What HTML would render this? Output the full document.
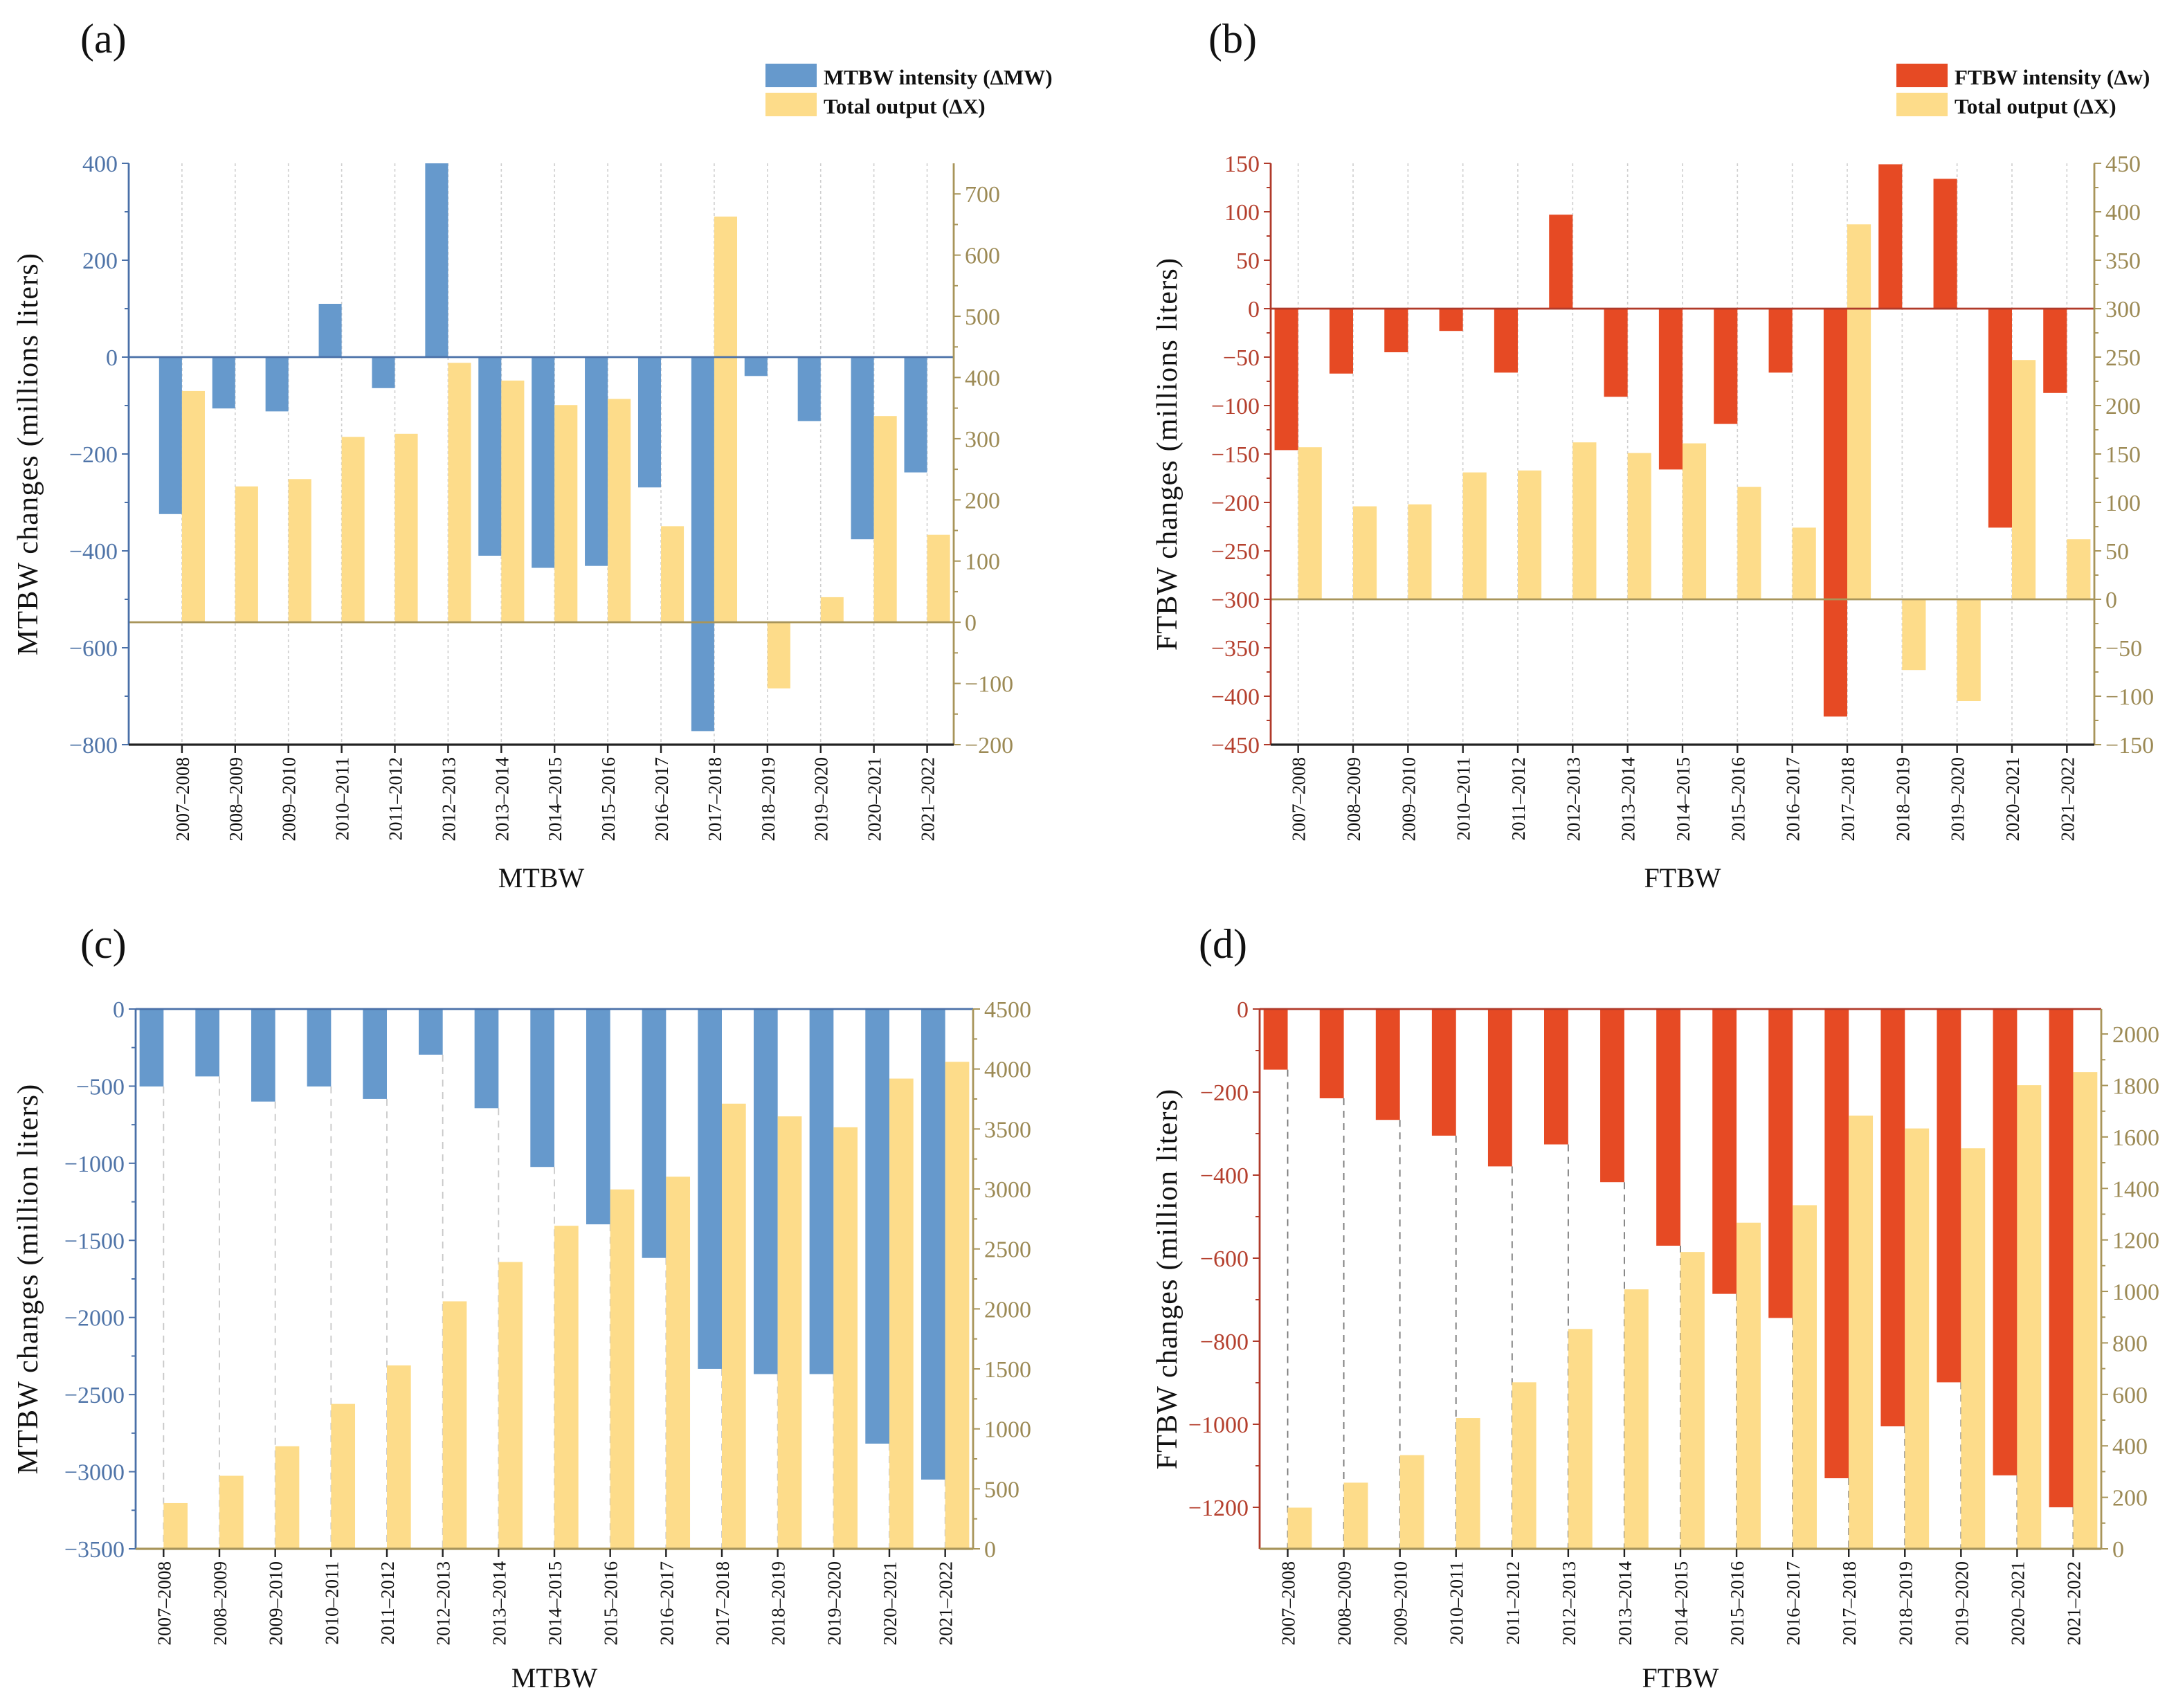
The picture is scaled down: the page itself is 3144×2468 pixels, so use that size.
<!DOCTYPE html>
<html><head><meta charset="utf-8"><style>
html,body{margin:0;padding:0;background:#fff;}
svg{display:block;font-family:"Liberation Serif",serif;}
</style></head><body>
<svg id="fig" xmlns="http://www.w3.org/2000/svg" width="3144" height="2468" viewBox="0 0 1572 1234"></svg>
<script>
const categories = ["2007–2008","2008–2009","2009–2010","2010–2011","2011–2012","2012–2013","2013–2014","2014–2015","2015–2016","2016–2017","2017–2018","2018–2019","2019–2020","2020–2021","2021–2022"];
const mtbwIntensityA = [-324,-106,-112,110,-64,400,-410,-435,-431,-269,-772,-39,-132,-376,-238];
const outputA = [378,222,234,303,308,424,395,355,365,157,663,-108,41,337,143];
const ftbwIntensityB = [-146,-67,-45,-23,-66,97,-91,-166,-119,-66,-421,149,134,-226,-87];
const outputB = [157,96,98,131,133,162,151,161,116,74,387,-73,-105,247,62];
const mtbwCumC = [-502,-437,-600,-502,-583,-296,-643,-1024,-1396,-1614,-2333,-2367,-2367,-2818,-3051];
const outputC = [381,609,855,1208,1529,2063,2391,2693,2996,3102,3711,3605,3514,3920,4060];
const ftbwCumD = [-146,-215,-267,-305,-379,-326,-417,-570,-686,-744,-1130,-1005,-899,-1123,-1200];
const outputD = [160,257,364,508,647,854,1008,1153,1267,1335,1683,1633,1556,1801,1852];
const ticksLeftA = [400,200,0,-200,-400,-600,-800];
const ticksRightA = [700,600,500,400,300,200,100,0,-100,-200];
const ticksLeftB = [150,100,50,0,-50,-100,-150,-200,-250,-300,-350,-400,-450];
const ticksRightB = [450,400,350,300,250,200,150,100,50,0,-50,-100,-150];
const ticksLeftC = [0,-500,-1000,-1500,-2000,-2500,-3000,-3500];
const ticksRightC = [4500,4000,3500,3000,2500,2000,1500,1000,500,0];
const ticksLeftD = [0,-200,-400,-600,-800,-1000,-1200];
const ticksRightD = [2000,1800,1600,1400,1200,1000,800,600,400,200,0];

const NS="http://www.w3.org/2000/svg";
const svg=document.getElementById('fig');
function mk(tag,attrs,parent,text){const e=document.createElementNS(NS,tag);for(const k in attrs)e.setAttribute(k,attrs[k]);if(text!==undefined)e.textContent=text;(parent||svg).appendChild(e);return e;}

const BLUE="#6699cc",YEL="#fddc8a",RED="#e64a24",OLIVE="#a8955a";

function panel(p){
  const g=mk('g',{});
  
  
  const L=p.x0,R=p.x1,T=p.y0,B=p.y1;
  const yl=v=>T+(p.lmax-v)/(p.lmax-p.lmin)*(B-T);
  const yr=v=>T+(p.rmax-v)/(p.rmax-p.rmin)*(B-T);
  const n=categories.length;
  const step=(R-L)/(n+p.padL+p.padR-1);
  const cx=i=>L+(p.padL+i)*step;
  const bw=step*0.43;
  categories.forEach((c,i)=>{
    if(p.grid){
      const ln=mk('line',{x1:cx(i),x2:cx(i),y1:T,y2:B,stroke:'#cfcfcf','stroke-width':0.8,'stroke-dasharray':'2,2'},g);
      
      
    }
    if(p.drop){
      const ln=mk('line',{x1:cx(i),x2:cx(i),y1:yl(p.left[i]),y2:B,stroke:p.dropColor,'stroke-width':0.9,'stroke-dasharray':'5,4'},g);
      
      
    }
  });
  categories.forEach((c,i)=>{
    const v=p.left[i];const y0=yl(0),y1=yl(v);
    const r=mk('rect',{x:cx(i)-bw,y:Math.min(y0,y1),width:bw,height:Math.abs(y1-y0),fill:p.color},g);
    
    
    const w=p.right[i];const z0=yr(0),z1=yr(w);
    const r2=mk('rect',{x:cx(i),y:Math.min(z0,z1),width:bw,height:Math.abs(z1-z0),fill:YEL},g);
    
    
  });
  const zl=mk('line',{x1:L,x2:R,y1:yl(0),y2:yl(0),stroke:p.axisColor,'stroke-width':1.4},g);
  
  
  const zr=mk('line',{x1:L,x2:R,y1:yr(0),y2:yr(0),stroke:OLIVE,'stroke-width':1.4},g);
  
  
  const la=mk('line',{x1:L,x2:L,y1:T,y2:B,stroke:p.axisColor,'stroke-width':1.4},g);
  
  
  const ra=mk('line',{x1:R,x2:R,y1:T,y2:B,stroke:OLIVE,'stroke-width':1.4},g);
  
  
  const ba=mk('line',{x1:L,x2:R,y1:B,y2:B,stroke:p.bottomColor,'stroke-width':1.6},g);
  
  
  p.lt.forEach((v,k)=>{
    const y=yl(v);
    mk('line',{x1:L-5,x2:L,y1:y,y2:y,stroke:p.axisColor,'stroke-width':1},g);
    if(k<p.lt.length-1){const ym=(y+yl(p.lt[k+1]))/2;mk('line',{x1:L-3,x2:L,y1:ym,y2:ym,stroke:p.axisColor,'stroke-width':1},g);}
    const t=mk('text',{x:L-8,y:y+6,'text-anchor':'end','font-size':17,fill:p.labelColor},g,(v<0?'−'+(-v):String(v)));
    
    
  });
  p.rt.forEach((v,k)=>{
    const y=yr(v);
    mk('line',{x1:R,x2:R+5,y1:y,y2:y,stroke:OLIVE,'stroke-width':1},g);
    if(k<p.rt.length-1){const ym=(y+yr(p.rt[k+1]))/2;mk('line',{x1:R,x2:R+3,y1:ym,y2:ym,stroke:OLIVE,'stroke-width':1},g);}
    const t=mk('text',{x:R+8,y:y+6,'text-anchor':'start','font-size':17,fill:'#9c8a55'},g,(v<0?'−'+(-v):String(v)));
    
    
  });
  categories.forEach((c,i)=>{
    mk('line',{x1:cx(i),x2:cx(i),y1:B,y2:B+6,stroke:'#222','stroke-width':1.2},g);
    const t=mk('text',{x:0,y:0,'text-anchor':'end','font-size':13.5,fill:'#111',transform:`translate(${cx(i)+5},${B+9}) rotate(-90)`},g,c);
    
    
  });
  const xt=mk('text',{x:(L+R)/2,y:p.xtY,'text-anchor':'middle','font-size':20,fill:'#111'},g,p.xtitle);
  
  
  const yt=mk('text',{x:0,y:0,'text-anchor':'middle','font-size':21,'letter-spacing':'0.6',fill:'#111',transform:`translate(${p.ytX},${(T+B)/2}) rotate(-90)`},g,p.ytitle);
  
  
  const pl=mk('text',{x:p.lblX,y:p.lblY,'font-size':30,fill:'#111'},g,p.label);
  
  
  if(p.legend){
    const lg=mk('g',{},g);
    
    
    mk('rect',{x:p.legX,y:46,width:37,height:17,fill:p.color},lg);
    const a=mk('text',{x:p.legX+42,y:61,'font-size':15.5,'font-weight':'bold',fill:'#111'},lg,p.legend);
    
    
    mk('rect',{x:p.legX,y:67,width:37,height:17,fill:YEL},lg);
    const b=mk('text',{x:p.legX+42,y:82,'font-size':15.5,'font-weight':'bold',fill:'#111'},lg,'Total output  (ΔX)');
    
    
  }
}

panel({name:'panel-a',x0:93,x1:689,y0:118,y1:538,lmax:400,lmin:-800,rmax:750,rmin:-200,padL:1,padR:0.5,
  left:mtbwIntensityA,right:outputA,lt:ticksLeftA,rt:ticksRightA,color:BLUE,axisColor:'#4a70a8',labelColor:'#4f74a8',
  bottomColor:'#222',grid:true,drop:false,xtitle:'MTBW',xtY:641,ytitle:'MTBW changes (millions liters)',ytX:27,
  label:'(a)',lblX:58,lblY:38,legend:'MTBW intensity (ΔMW)',legX:553});
panel({name:'panel-b',x0:918,x1:1513,y0:118,y1:538,lmax:150,lmin:-450,rmax:450,rmin:-150,padL:0.5,padR:0.5,
  left:ftbwIntensityB,right:outputB,lt:ticksLeftB,rt:ticksRightB,color:RED,axisColor:'#b03a2a',labelColor:'#b5402e',
  bottomColor:'#222',grid:true,drop:false,xtitle:'FTBW',xtY:641,ytitle:'FTBW changes (millions liters)',ytX:850,
  label:'(b)',lblX:873,lblY:38,legend:'FTBW intensity (Δw)',legX:1370});
panel({name:'panel-c',x0:98,x1:703,y0:729,y1:1119,lmax:0,lmin:-3500,rmax:4500,rmin:0,padL:0.5,padR:0.5,
  left:mtbwCumC,right:outputC,lt:ticksLeftC,rt:ticksRightC,color:BLUE,axisColor:'#4a70a8',labelColor:'#4f74a8',
  bottomColor:OLIVE,grid:false,drop:true,dropColor:'#c8c8c8',xtitle:'MTBW',xtY:1219,ytitle:'MTBW changes (million liters)',ytX:27,
  label:'(c)',lblX:58,lblY:692});
panel({name:'panel-d',x0:910,x1:1518,y0:729,y1:1119,lmax:0,lmin:-1300,rmax:2097,rmin:0,padL:0.5,padR:0.5,
  left:ftbwCumD,right:outputD,lt:ticksLeftD,rt:ticksRightD,color:RED,axisColor:'#b03a2a',labelColor:'#b5402e',
  bottomColor:OLIVE,grid:false,drop:true,dropColor:'#777',xtitle:'FTBW',xtY:1219,ytitle:'FTBW changes (million liters)',ytX:850,
  label:'(d)',lblX:866,lblY:692});
</script>
</body></html>
